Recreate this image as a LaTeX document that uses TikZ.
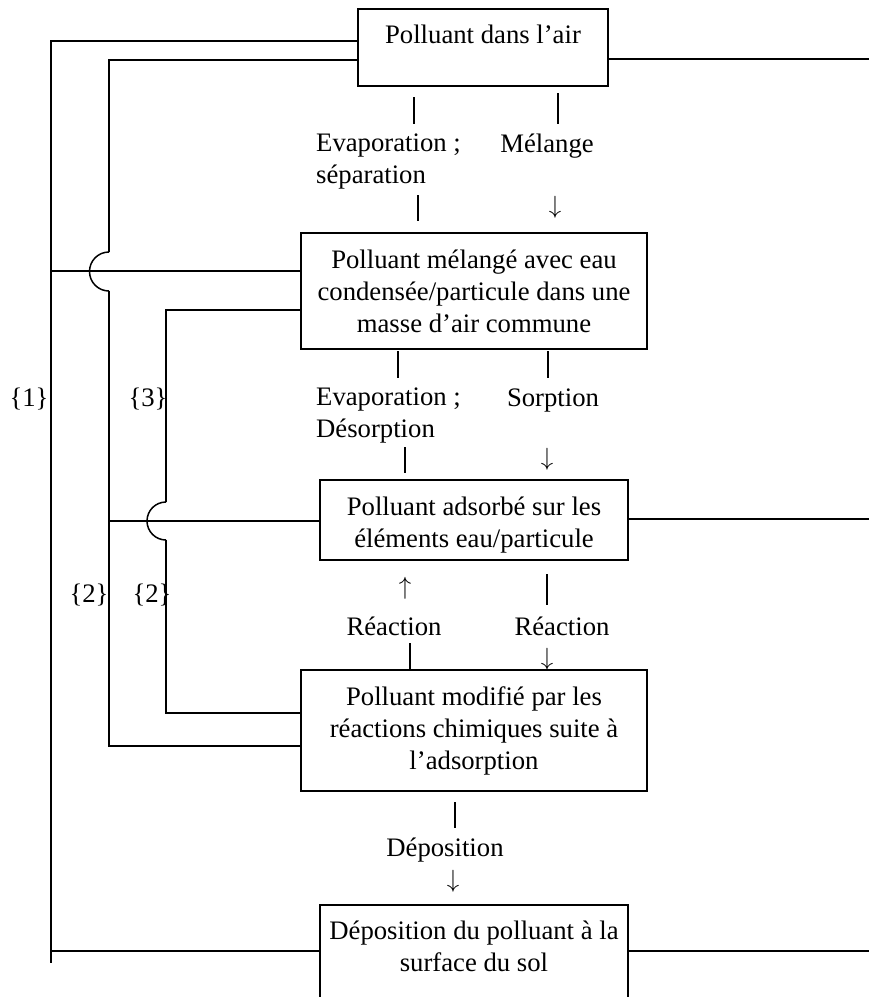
\documentclass[tikz,border=0pt]{standalone}
\usepackage{fontspec}
\setmainfont{Liberation Serif}
\begin{document}
\begin{tikzpicture}[x=1pt,y=-1pt,
  every node/.style={font=\fontsize{26.7}{32}\selectfont, inner sep=0pt},
  box/.style={draw, line width=1.5pt, align=center},
  ln/.style={line width=1.5pt},
  bar/.style={line width=1.7pt},
  lbl/.style={align=left, anchor=west}]
\useasboundingbox (0,0) rectangle (869,997);
\fill[white] (0,0) rectangle (869,997);

% boxes
\node[box, minimum width=250pt, minimum height=77pt, text height=18.7pt, text depth=26.1pt] (b1) at (483,47.5) {Polluant dans l’air};
\node[box, minimum width=346pt, minimum height=116pt] (b2) at (474,291) {Polluant mélangé avec eau\\condensée/particule dans une\\masse d’air commune};
\node[box, minimum width=308pt, minimum height=80pt] (b3) at (474,520) {\rule{0pt}{29pt}Polluant adsorbé sur les\\éléments eau/particule};
\node[box, minimum width=346pt, minimum height=121pt] (b4) at (474,730.5) {Polluant modifié par les\\réactions chimiques suite à\\l’adsorption};
\node[align=center, minimum width=308pt] (b5) at (474,946) {Déposition du polluant à la\\surface du sol};
\draw[ln] (b5.west |- 0,997) -- (b5.west |- 0,905) -- (b5.east |- 0,905) -- (b5.east |- 0,997);

% free corners
\coordinate (c1t) at (51,41);
\coordinate (c1b) at (51,963);
\coordinate (c2t) at (109,60);
\coordinate (c2b) at (109,746);
\coordinate (c3t) at (166,310);
\coordinate (c3b) at (166,713);
\coordinate (r1) at (869,59);
\coordinate (r3) at (869,519);
\coordinate (r5) at (869,951);

% loop {1}
\draw[ln] (b1.west |- c1t) -- (c1t) -- (c1b);
\draw[ln] (51,271) -- (b2.west |- 0,271);
\draw[ln] (51,951) -- (b5.west |- 0,951);

% loop {2} outer
\draw[ln] (b1.west |- c2t) -- (c2t) -- (109,252);
\draw[ln] (109,252)
  .. controls (98.2,252) and (89.5,260.7) .. (89.5,271.5)
  .. controls (89.5,282.3) and (98.2,291) .. (109,291);
\draw[ln] (109,291) -- (c2b) -- (b4.west |- c2b);
\draw[ln] (109,521) -- (b3.west |- 0,521);

% loop {3}/{2} inner
\draw[ln] (b2.west |- c3t) -- (c3t) -- (166,502);
\draw[ln] (166,502)
  .. controls (155.5,502) and (147,510.5) .. (147,521)
  .. controls (147,531.5) and (155.5,540) .. (166,540);
\draw[ln] (166,540) -- (c3b) -- (b4.west |- c3b);

% right lines
\draw[ln] (b1.east |- r1) -- (r1);
\draw[ln] (b3.east |- r3) -- (r3);
\draw[ln] (b5.east |- r5) -- (r5);

% loop labels
\node (n1) at (29,399) {\{1\}};
\node (n3) at (148,399) {\{3\}};
\node (n2a) at (89,595) {\{2\}};
\node (n2b) at (152,595) {\{2\}};

% b1 -> b2
\draw[bar] (414,97) -- (414,124);
\node[lbl] (l1) at (316,161) {Evaporation ;\\séparation};
\draw[bar] (418,195) -- (418,221);
\draw[bar] (558,93) -- (558,124);
\node (l2) at (547,146) {Mélange};
\node (a2) at (555,207) {$\downarrow$};

% b2 -> b3
\draw[bar] (398,351) -- (398,378);
\node[lbl] (l3) at (316,415) {Evaporation ;\\Désorption};
\draw[bar] (405,447) -- (405,473);
\draw[bar] (548,351) -- (548,378);
\node (l4) at (553,400) {Sorption};
\node (a4) at (547,459) {$\downarrow$};

% b3 <-> b4
\node (a5) at (405,588) {$\uparrow$};
\node (l5) at (394,626) {Réaction};
\draw[bar] (410,643) -- (410,670);
\draw[bar] (547,574) -- (547,605);
\node (l6) at (562,626) {Réaction};
\node (a6) at (547,659) {$\downarrow$};

% b4 -> b5
\draw[bar] (455,802) -- (455,828);
\node (l7) at (445,850) {Déposition};
\node (a7) at (453,881) {$\downarrow$};
\end{tikzpicture}
\end{document}
